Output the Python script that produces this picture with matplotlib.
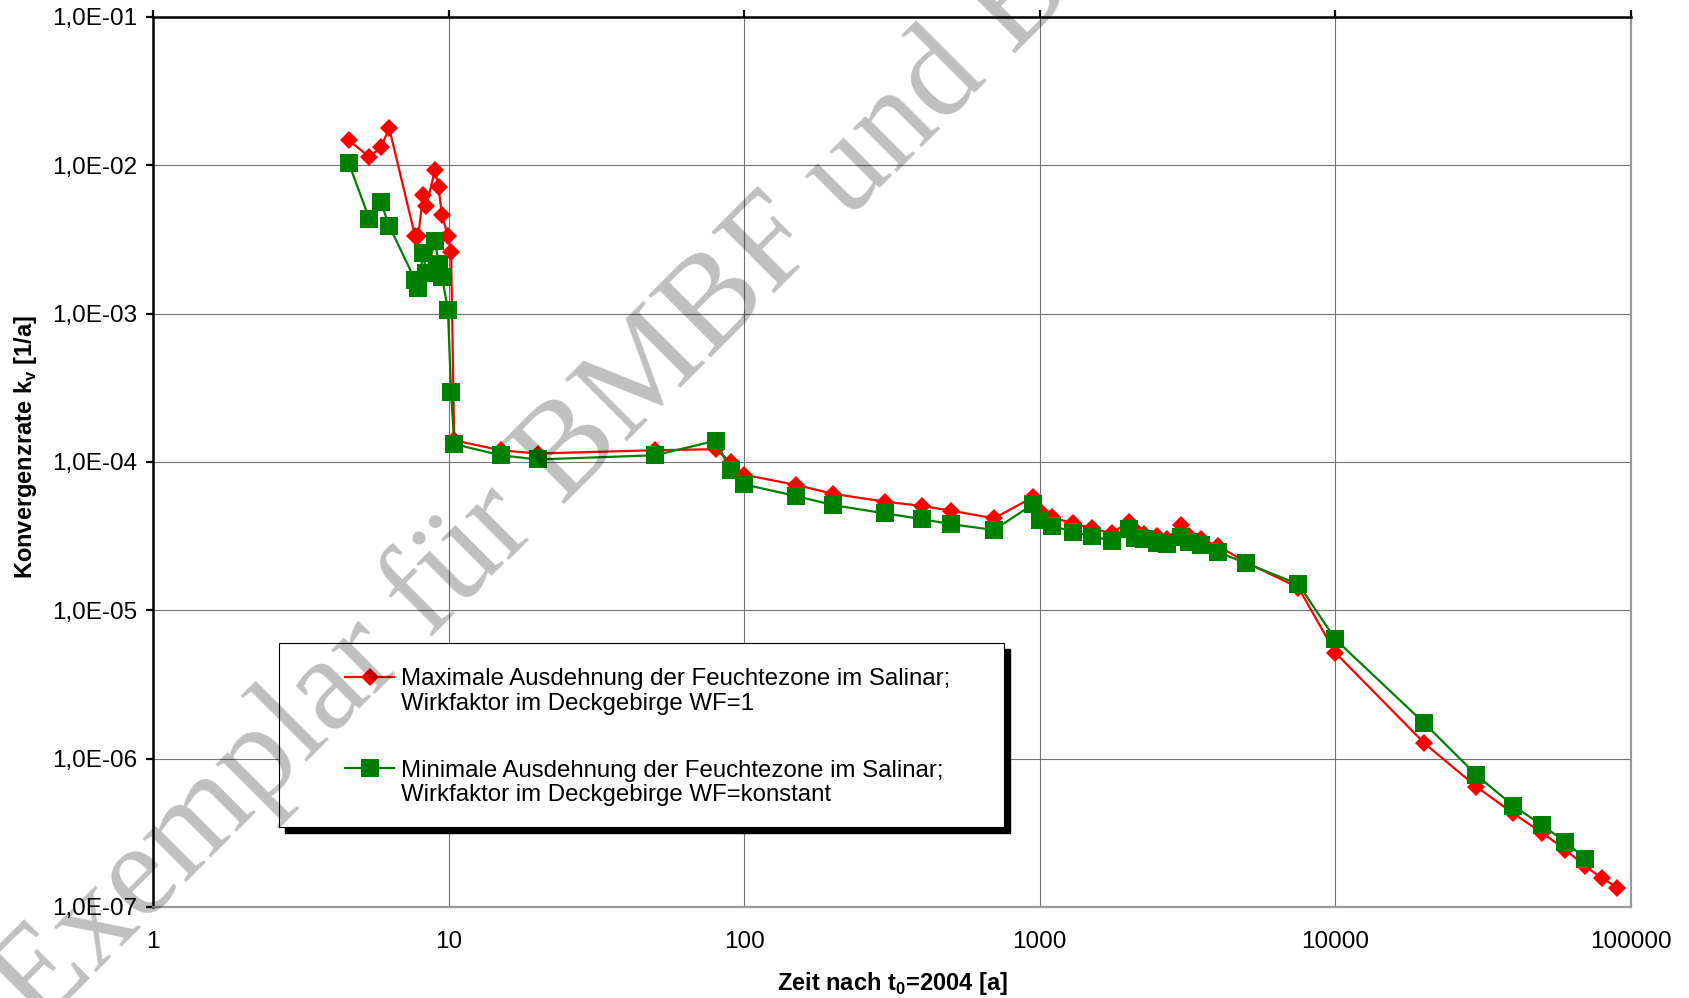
import matplotlib
matplotlib.use("Agg")
import matplotlib.pyplot as plt
from matplotlib.patches import Rectangle
from matplotlib.lines import Line2D
import numpy as np

plt.rcParams['font.family'] = ['Liberation Sans', 'DejaVu Sans']
plt.rcParams['mathtext.fontset'] = 'custom'
plt.rcParams['mathtext.rm'] = 'Liberation Sans'
plt.rcParams['mathtext.bf'] = 'Liberation Sans:bold'

# Zeit nach t0=2004 [a] / Konvergenzrate [1/a]
t_max = [4.6, 5.4, 5.9, 6.3, 7.7, 7.9, 8.2, 8.4, 9.0, 9.25, 9.5, 9.95, 10.2, 10.45,
         15, 20, 50, 80, 90, 100, 150, 200, 300, 400, 500, 700,
         950, 1000, 1100, 1300, 1500, 1750, 2000, 2100, 2250, 2500, 2700, 3000, 3200, 3500,
         4000, 5000, 7500, 10000, 20000, 30000, 40000, 50000, 60000, 70000, 80000, 90000]
k_max = [1.47e-2, 1.14e-2, 1.32e-2, 1.78e-2, 3.35e-3, 3.35e-3, 6.3e-3, 5.3e-3, 9.3e-3, 7.1e-3,
         4.6e-3, 3.35e-3, 2.6e-3, 1.4e-4,
         1.20e-4, 1.14e-4, 1.20e-4, 1.22e-4, 1.0e-4, 8.2e-5, 7.0e-5, 6.1e-5, 5.4e-5, 5.05e-5,
         4.7e-5, 4.17e-5,
         5.8e-5, 4.7e-5, 4.23e-5, 3.85e-5, 3.58e-5, 3.3e-5, 3.96e-5, 3.5e-5, 3.27e-5, 3.18e-5,
         3.02e-5, 3.77e-5, 3.18e-5, 3.02e-5,
         2.72e-5, 2.1e-5, 1.42e-5, 5.17e-6, 1.27e-6, 6.46e-7, 4.27e-7, 3.16e-7, 2.44e-7,
         1.88e-7, 1.56e-7, 1.35e-7]

t_min = [4.6, 5.4, 5.9, 6.3, 7.7, 7.9, 8.2, 8.4, 9.0, 9.25, 9.5, 9.95, 10.2, 10.45,
         15, 20, 50, 80, 90, 100, 150, 200, 300, 400, 500, 700,
         950, 1000, 1100, 1300, 1500, 1750, 2000, 2100, 2250, 2500, 2700, 3000, 3200, 3500,
         4000, 5000, 7500, 10000, 20000, 30000, 40000, 50000, 60000, 70000]
k_min = [1.03e-2, 4.33e-3, 5.66e-3, 3.9e-3, 1.69e-3, 1.48e-3, 2.55e-3, 1.87e-3, 3.09e-3, 2.16e-3,
         1.77e-3, 1.06e-3, 2.97e-4, 1.32e-4,
         1.11e-4, 1.04e-4, 1.11e-4, 1.39e-4, 8.8e-5, 7.06e-5, 5.89e-5, 5.12e-5, 4.5e-5, 4.12e-5,
         3.81e-5, 3.48e-5,
         5.2e-5, 4.06e-5, 3.7e-5, 3.38e-5, 3.16e-5, 2.94e-5, 3.51e-5, 3.05e-5, 3.01e-5, 2.83e-5,
         2.79e-5, 3.13e-5, 2.9e-5, 2.75e-5,
         2.48e-5, 2.07e-5, 1.5e-5, 6.37e-6, 1.73e-6, 7.75e-7, 4.81e-7, 3.56e-7, 2.75e-7, 2.12e-7]

label_max = ["Maximale Ausdehnung der Feuchtezone im Salinar;", "Wirkfaktor im Deckgebirge WF=1"]
label_min = ["Minimale Ausdehnung der Feuchtezone im Salinar;", "Wirkfaktor im Deckgebirge WF=konstant"]

x_ticks = [1, 10, 100, 1000, 10000, 100000]
y_ticks = [1e-7, 1e-6, 1e-5, 1e-4, 1e-3, 1e-2, 1e-1]

TICK_SIZE = 17.5
LABEL_SIZE = 17
LEGEND_SIZE = 17.3

fig = plt.figure(figsize=(16.9, 9.98), dpi=100)
ax = fig.add_axes([0.0905, 0.0912, 0.8746, 0.8918])

h_max, = ax.loglog(t_max, k_max, color='#ff0000', lw=1.6, marker='D', ms=9, mew=0)
h_min, = ax.loglog(t_min, k_min, color='#008000', lw=1.6, marker='s', ms=13, mew=0)

ax.set_xlim(1, 1e5)
ax.set_ylim(1e-7, 1e-1)
ax.set_xticks(x_ticks)
ax.set_xticklabels([str(v) for v in x_ticks])
ax.set_yticks(y_ticks)
ax.set_yticklabels(["1,0E-%02d" % round(-np.log10(v)) for v in y_ticks])
ax.minorticks_off()

ax.tick_params(axis='x', which='both', direction='out', top=True, bottom=False,
               labeltop=False, labelbottom=True, length=5, width=1.6, pad=12, labelsize=TICK_SIZE)
ax.tick_params(axis='y', which='both', direction='out', left=True, right=False,
               length=5, width=1.6, pad=6, labelsize=TICK_SIZE)

for side in ['top', 'left']:
    ax.spines[side].set_color('black')
    ax.spines[side].set_linewidth(1.8)
for side in ['bottom', 'right']:
    ax.spines[side].set_color('0.6')
    ax.spines[side].set_linewidth(1.6)

ax.grid(True, which='major', color='0.45', lw=0.8)
ax.set_axisbelow(True)

ax.set_xlabel(r"Zeit nach t$_\mathbf{0}$=2004 [a]", fontsize=LABEL_SIZE, weight='bold')
ax.set_ylabel(r"Konvergenzrate k$_\mathbf{v}$ [1/a]", fontsize=LABEL_SIZE, weight='bold')
ax.xaxis.set_label_coords(0.5, -0.071)
ax.yaxis.set_label_coords(-0.077, 0.517)

# legend box with hard black shadow, like the spreadsheet original
bx, by, bw, bh = 0.0853, 0.0899, 0.4905, 0.2067
ax.add_patch(Rectangle((bx + 0.0041, by - 0.0067), bw, bh, transform=ax.transAxes,
                       facecolor='black', edgecolor='black', zorder=4, clip_on=False))
ax.add_patch(Rectangle((bx, by), bw, bh, transform=ax.transAxes,
                       facecolor='white', edgecolor='black', lw=0.8, zorder=4.5, clip_on=False))

# one row per text line, handle only on the first line of each entry
blank = Line2D([], [], linestyle='none')
handles = [h_max, blank, blank, h_min, blank]
labels = [label_max[0], label_max[1], " ", label_min[0], label_min[1]]
leg = ax.legend(handles, labels, loc='upper left', bbox_to_anchor=(0.1299, 0.268), frameon=False,
                borderpad=0, borderaxespad=0, handlelength=2.05, handletextpad=0.3,
                labelspacing=0.1, fontsize=LEGEND_SIZE)
leg.set_zorder(5)
leg.get_texts()[2].set_fontsize(30)

# watermark
fig.text(38 / 1690, 1 - 1030 / 998, "Exemplar für BMBF und BfS", rotation=45,
         rotation_mode='anchor', ha='left', va='baseline', fontsize=96,
         family='Liberation Serif', color='black', alpha=0.25, zorder=100)

plt.savefig('out.png', dpi=100)
plt.close(fig)
